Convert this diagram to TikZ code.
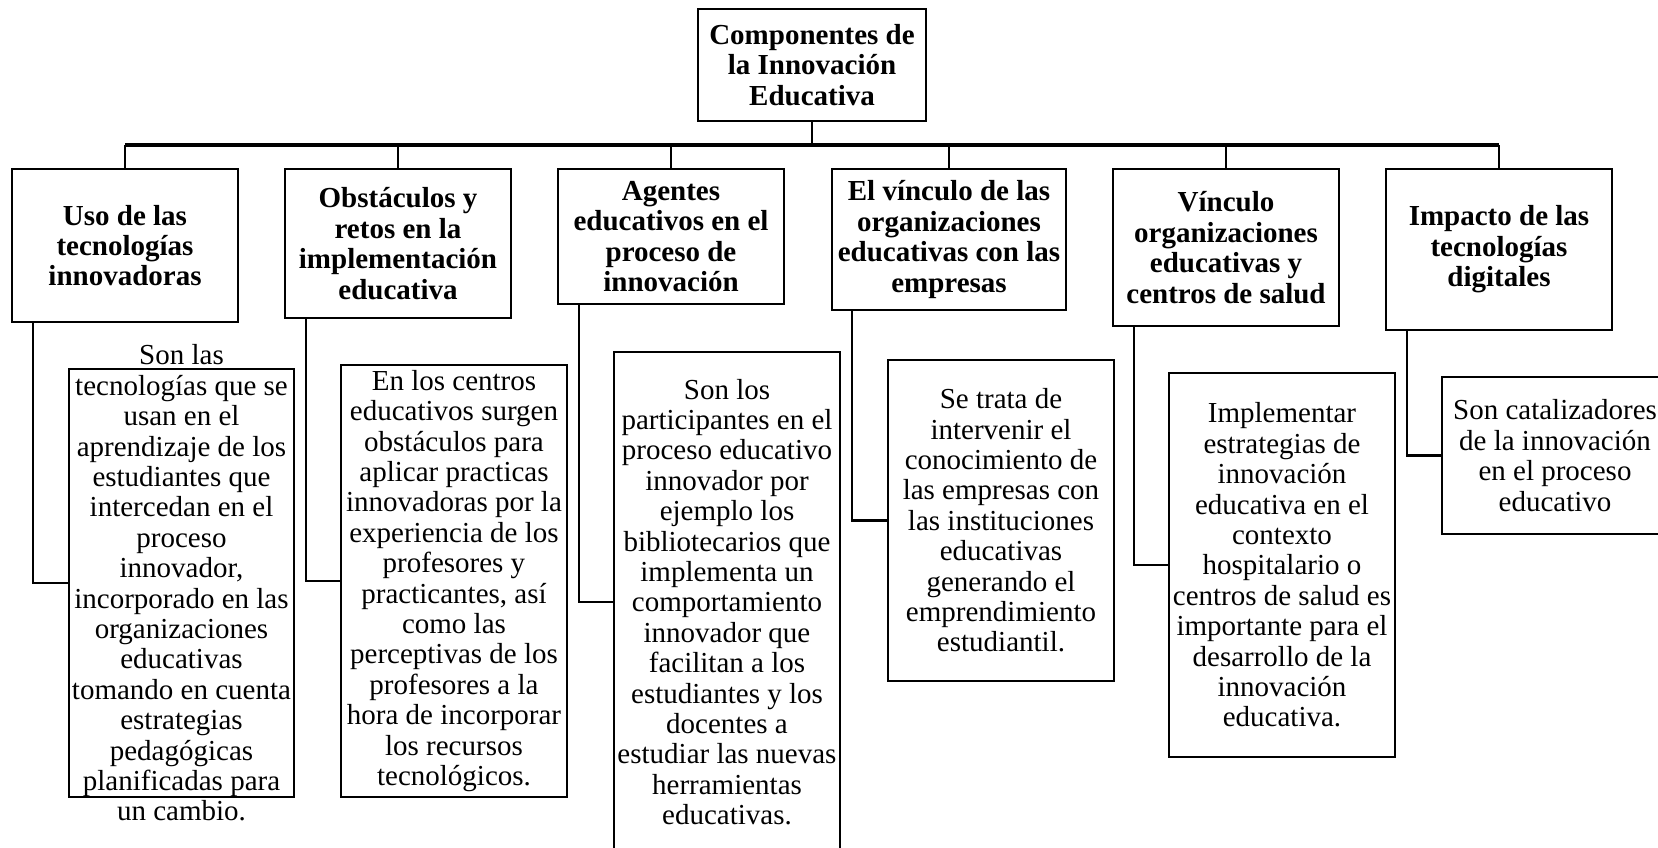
\documentclass[tikz,border=0pt]{standalone}
\usepackage{fontspec}
\setmainfont{Liberation Serif}
\usetikzlibrary{calc}
\begin{document}
\begin{tikzpicture}[x=1pt,y=-1pt,
  hbox/.style={draw, line width=2.5pt, font=\fontsize{29}{30.4}\selectfont\bfseries, align=center, inner sep=0pt, minimum width=226pt},
  dbox/.style={draw, line width=2.5pt, font=\fontsize{29}{30.4}\selectfont, align=center, inner sep=0pt, minimum width=226pt},
  dtext/.style={font=\fontsize{29}{30.4}\selectfont, align=center, inner sep=0pt},
  conn/.style={line width=2.4pt},
  busline/.style={line width=3.2pt}]
\clip (0,0) rectangle (1658,847);
\fill[white] (0,0) rectangle (1658,847);

% root
\node[hbox, minimum width=228pt, minimum height=112pt] (root) at (812,65) {Componentes de\\la Innovación\\Educativa};

% headers
\node[hbox, minimum height=153pt] (h1) at (125,245.5) {Uso de las\\tecnologías\\innovadoras};
\node[hbox, minimum height=149pt] (h2) at (398,243.5) {Obstáculos y\\retos en la\\implementación\\educativa};
\node[hbox, minimum height=135pt] (h3) at (671,236.5) {Agentes\\educativos en el\\proceso de\\innovación};
\node[hbox, minimum width=234pt, minimum height=141pt] (h4) at (949,239.5) {El vínculo de las\\organizaciones\\educativas con las\\empresas};
\node[hbox, minimum height=157pt] (h5) at (1226,247.5) {Vínculo\\organizaciones\\educativas y\\centros de salud};
\node[hbox, minimum height=161pt] (h6) at (1499,249.5) {Impacto de las\\tecnologías\\digitales};

% details
\node[dbox, minimum width=225pt, minimum height=428pt] (d1) at (181.5,583) {};
\node[dtext] (t1) at (d1.center) {Son las\\tecnologías que se\\usan en el\\aprendizaje de los\\estudiantes que\\intercedan en el\\proceso\\innovador,\\incorporado en las\\organizaciones\\educativas\\tomando en cuenta\\estrategias\\pedagógicas\\planificadas para\\un cambio.};
\node[dbox, minimum height=432pt] (d2) at (454,581) {En los centros\\educativos surgen\\obstáculos para\\aplicar practicas\\innovadoras por la\\experiencia de los\\profesores y\\practicantes, así\\como las\\perceptivas de los\\profesores a la\\hora de incorporar\\los recursos\\tecnológicos.};
\node[dbox, minimum height=500pt] (d3) at (727,602) {Son los\\participantes en el\\proceso educativo\\innovador por\\ejemplo los\\bibliotecarios que\\implementa un\\comportamiento\\innovador que\\facilitan a los\\estudiantes y los\\docentes a\\estudiar las nuevas\\herramientas\\educativas.};
\node[dbox, minimum height=321pt] (d4) at (1001,520.5) {Se trata de\\intervenir el\\conocimiento de\\las empresas con\\las instituciones\\educativas\\generando el\\emprendimiento\\estudiantil.};
\node[dbox, minimum height=384pt] (d5) at (1282,565) {Implementar\\estrategias de\\innovación\\educativa en el\\contexto\\hospitalario o\\centros de salud es\\importante para el\\desarrollo de la\\innovación\\educativa.};
\node[dbox, minimum height=157pt] (d6) at (1555,455.5) {Son catalizadores\\de la innovación\\en el proceso\\educativo};

% connectors
\coordinate (bus) at (812,145);
\draw[conn] (root.south) -- (root.south |- bus);
\draw[busline] (h1.north |- bus) -- (h6.north |- bus);
\foreach \i in {1,...,6} {
  \draw[conn] (h\i.north) -- (h\i.north |- bus);
}
\foreach \i in {1,2,3,5,6} {
  \draw[conn] ($(h\i.south west)+(22,0)$) |- (d\i.west);
}
\draw[conn] ($(h4.south west)+(21,0)$) |- (d4.west);
\end{tikzpicture}
\end{document}
